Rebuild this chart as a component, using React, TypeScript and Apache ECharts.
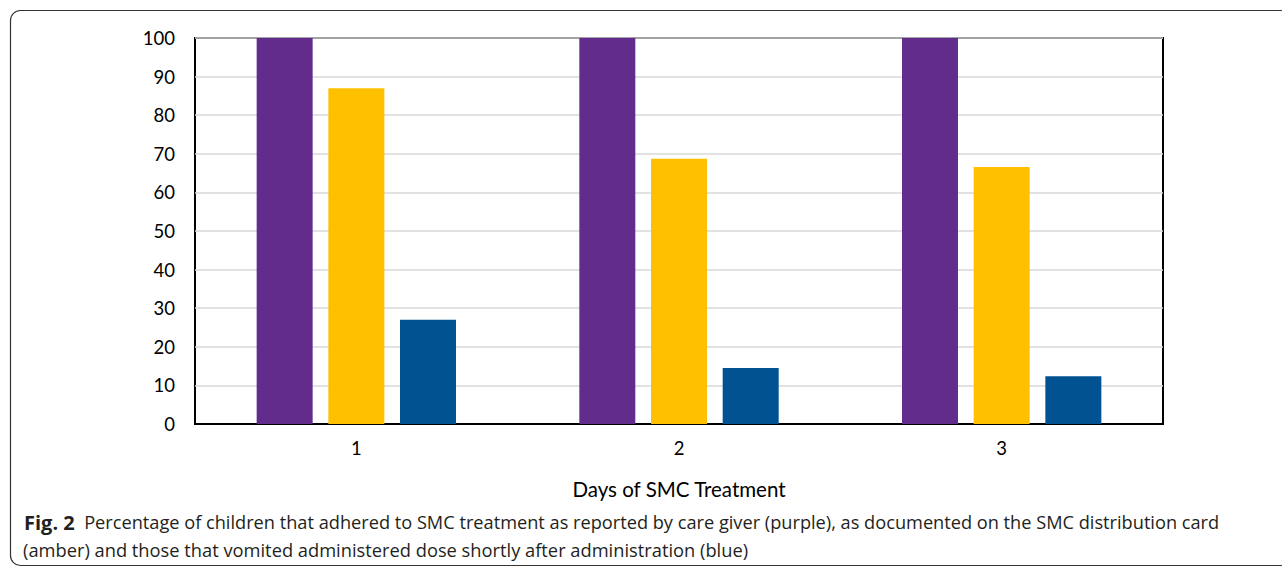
import React, { useEffect, useRef } from "react";
import * as echarts from "echarts";

const days = ["1", "2", "3"];
const caregiver = [100, 100, 100];
const card = [87, 68.7, 66.6];
const vomited = [27, 14.5, 12.4];
const yTicks = { min: 0, max: 100, interval: 10 };

const captionLine1 =
  "Percentage of children that adhered to SMC treatment as reported by care giver (purple), as documented on the SMC distribution card";
const captionLine2 =
  "(amber) and those that vomited administered dose shortly after administration (blue)";

export default function App() {
  const ref = useRef<HTMLDivElement>(null);
  useEffect(() => {
    document.body.style.margin = "0";
    const chart = echarts.init(ref.current!, null, { renderer: "svg" });
    const axisFont = { fontFamily: "Lato", fontSize: 18.5, color: "#000" };
    const mkBar = (name: string, data: number[], color: string) => ({
      name,
      type: "bar",
      data,
      barWidth: 56,
      barGap: "28%",
      itemStyle: { color },
    });
    chart.setOption({
      animation: false,
      backgroundColor: "#fff",
      grid: {
        left: 195,
        right: 119,
        top: 38,
        bottom: 143,
        show: true,
        borderColor: "#000",
        borderWidth: 2,
        backgroundColor: "transparent",
      },
      xAxis: {
        type: "category",
        data: days,
        axisTick: { show: false },
        axisLine: { show: true, lineStyle: { color: "#000", width: 2 } },
        axisLabel: { ...axisFont, margin: 14 },
        name: "Days of SMC Treatment",
        nameLocation: "middle",
        nameGap: 54,
        nameTextStyle: { fontFamily: "Lato", fontSize: 20.5, color: "#000" },
      },
      yAxis: {
        type: "value",
        min: yTicks.min,
        max: yTicks.max,
        interval: yTicks.interval,
        axisLine: { show: false },
        axisTick: { show: false },
        axisLabel: { ...axisFont, margin: 20 },
        splitLine: { lineStyle: { color: "#d9d9d9", width: 1.5 } },
      },
      series: [
        mkBar("Care giver", caregiver, "#622C8C"),
        mkBar("Distribution card", card, "#FFC000"),
        mkBar("Vomited", vomited, "#005291"),
      ],
      graphic: [
        {
          type: "rect",
          shape: { x: 10.5, y: 10.5, width: 1400, height: 555, r: 10 },
          style: { fill: "none", stroke: "#333", lineWidth: 1.2 },
          silent: true,
        },
        {
          type: "text",
          left: 24,
          top: 512,
          style: {
            text: "{b|Fig. 2}  " + captionLine1,
            fontFamily: "Open Sans",
            fontSize: 18.2,
            fill: "#231f20",
            rich: {
              b: { fontFamily: "Open Sans", fontSize: 20, fontWeight: "bold", fill: "#231f20" },
            },
          },
        },
        {
          type: "text",
          left: 23,
          top: 540,
          style: {
            text: captionLine2,
            fontFamily: "Open Sans",
            fontSize: 18.3,
            fill: "#231f20",
          },
        },
      ],
    });
    return () => chart.dispose();
  }, []);
  return <div ref={ref} style={{ width: 1282, height: 567 }} />;
}
